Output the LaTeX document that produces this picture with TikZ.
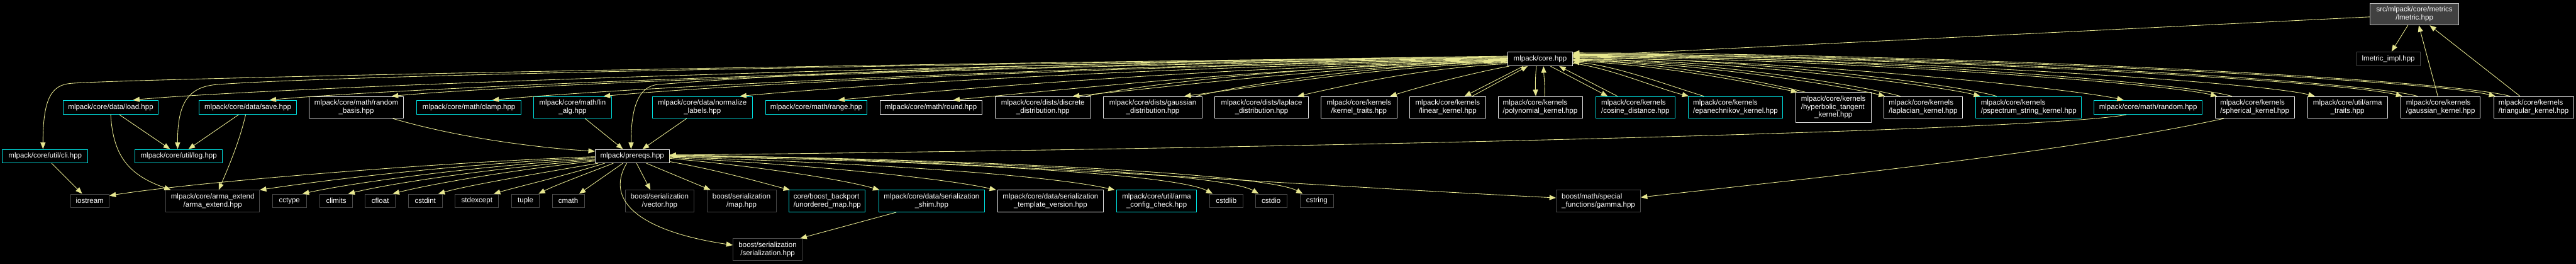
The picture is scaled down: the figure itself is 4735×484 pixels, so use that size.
\documentclass[tikz,border=0pt]{standalone}
\usepackage{fontspec}
\setmainfont{Liberation Sans}
\usetikzlibrary{arrows.meta,calc}
\definecolor{edgec}{RGB}{230,230,143}
\definecolor{cyanb}{RGB}{0,224,224}
\definecolor{docb}{RGB}{230,230,230}
\definecolor{sysb}{RGB}{74,74,74}
\definecolor{rootf}{RGB}{64,64,64}
\definecolor{rootb}{RGB}{191,191,191}
\begin{document}
\begin{tikzpicture}[x=0.75pt,y=-0.75pt,
  base/.style={rectangle, fill=black, text=white, inner sep=0pt, line width=0.75pt,
    font=\fontsize{10pt}{11.25pt}\selectfont, align=center},
  doc/.style={base, draw=docb},
  trunc/.style={base, draw=cyanb},
  sys/.style={base, draw=sysb},
  rootn/.style={base, draw=rootb, fill=rootf},
  sz/.style 2 args={minimum width={#1*0.75pt}, minimum height={#2*0.75pt}},
  e/.style={draw=edgec, line width=0.75pt, -{Triangle[length=9pt,width=7pt]}}]
\useasboundingbox (0,0) rectangle (4735,484);
\fill[black] (0,0) rectangle (4735,484);

% ---- row 1 / top
\node[rootn, sz={163}{40}] (root) at (4438,26) {src/mlpack/core/metrics\\/lmetric.hpp};
\node[doc, sz={119}{26}] (core) at (2831,108) {mlpack/core.hpp};
\node[sys, sz={117}{26}] (impl) at (4390,108) {lmetric\_impl.hpp};

% ---- row 2
\node[trunc, sz={175}{26}] (load) at (203.5,197) {mlpack/core/data/load.hpp};
\node[trunc, sz={179}{26}] (save) at (455.5,197) {mlpack/core/data/save.hpp};
\node[doc, sz={174}{40}] (rbasis) at (655,197) {mlpack/core/math/random\\\_basis.hpp};
\node[trunc, sz={192}{26}] (clamp) at (862,197) {mlpack/core/math/clamp.hpp};
\node[trunc, sz={143}{40}] (linalg) at (1052.5,197) {mlpack/core/math/lin\\\_alg.hpp};
\node[trunc, sz={183}{40}] (norm) at (1291,197) {mlpack/core/data/normalize\\\_labels.hpp};
\node[trunc, sz={187}{26}] (range) at (1500.5,197) {mlpack/core/math/range.hpp};
\node[doc, sz={187}{26}] (round) at (1711,197) {mlpack/core/math/round.hpp};
\node[doc, sz={175}{40}] (discrete) at (1917,197) {mlpack/core/dists/discrete\\\_distribution.hpp};
\node[doc, sz={182}{40}] (gdist) at (2119,197) {mlpack/core/dists/gaussian\\\_distribution.hpp};
\node[doc, sz={172}{40}] (ldist) at (2319,197) {mlpack/core/dists/laplace\\\_distribution.hpp};
\node[doc, sz={139}{40}] (ktraits) at (2498,197) {mlpack/core/kernels\\/kernel\_traits.hpp};
\node[doc, sz={139}{40}] (linear) at (2661,197) {mlpack/core/kernels\\/linear\_kernel.hpp};
\node[doc, sz={155}{40}, align=left] (poly) at (2831,197) {mlpack/core/kernels\\/polynomial\_kernel.hpp};
\node[trunc, sz={146}{40}, align=left] (cosine) at (3006,197) {mlpack/core/kernels\\/cosine\_distance.hpp};
\node[trunc, sz={174}{40}, align=left] (epan) at (3190,197) {mlpack/core/kernels\\/epanechnikov\_kernel.hpp};
\node[doc, sz={139}{55}] (hyper) at (3370,197) {\begin{tabular}{@{}l@{}}mlpack/core/kernels\\/hyperbolic\_tangent\\\multicolumn{1}{@{}c@{}}{\_kernel.hpp}\end{tabular}};
\node[doc, sz={144}{40}, align=left] (laplacian) at (3535,197) {mlpack/core/kernels\\/laplacian\_kernel.hpp};
\node[trunc, sz={194}{40}, align=left] (psk) at (3729,197) {mlpack/core/kernels\\/pspectrum\_string\_kernel.hpp};
\node[trunc, sz={199}{26}] (random) at (3948.5,197) {mlpack/core/math/random.hpp};
\node[doc, sz={146}{40}, align=left] (spherical) at (4144.5,197) {mlpack/core/kernels\\/spherical\_kernel.hpp};
\node[doc, sz={147}{40}] (atraits) at (4315,197) {mlpack/core/util/arma\\\_traits.hpp};
\node[doc, sz={146}{40}, align=left] (gkern) at (4486,197) {mlpack/core/kernels\\/gaussian\_kernel.hpp};
\node[doc, sz={147}{40}, align=left] (tri) at (4657,197) {mlpack/core/kernels\\/triangular\_kernel.hpp};

% ---- row 3
\node[trunc, sz={157}{25}] (cli) at (83,286.5) {mlpack/core/util/cli.hpp};
\node[trunc, sz={161}{25}] (log) at (328.5,286.5) {mlpack/core/util/log.hpp};
\node[doc, sz={136}{25}] (prereqs) at (1162,286.5) {mlpack/prereqs.hpp};

% ---- row 4
\node[sys, sz={71}{25}] (iostream) at (165,368.5) {iostream};
\node[sys, sz={172}{40}] (aext) at (391,369) {mlpack/core/arma\_extend\\/arma\_extend.hpp};
\node[sys, sz={62}{25}] (cctype) at (532,368.5) {cctype};
\node[sys, sz={60}{25}] (climits) at (618,368.5) {climits};
\node[sys, sz={55}{25}] (cfloat) at (699,368.5) {cfloat};
\node[sys, sz={62}{25}] (cstdint) at (781.7,368.5) {cstdint};
\node[sys, sz={80}{25}] (stdexcept) at (876.6,368.5) {stdexcept};
\node[sys, sz={51}{25}] (tuple) at (966,368.5) {tuple};
\node[sys, sz={59}{25}] (cmath) at (1044.5,368.5) {cmath};
\node[sys, sz={127}{40}] (vector) at (1212.5,369) {boost/serialization\\/vector.hpp};
\node[sys, sz={127}{40}] (map) at (1363,369) {boost/serialization\\/map.hpp};
\node[trunc, sz={140}{40}, align=left] (umap) at (1520.5,369) {core/boost\_backport\\/unordered\_map.hpp};
\node[trunc, sz={195}{40}] (shim) at (1712.5,369) {mlpack/core/data/serialization\\\_shim.hpp};
\node[doc, sz={195}{40}] (tver) at (1931,369) {mlpack/core/data/serialization\\\_template\_version.hpp};
\node[trunc, sz={147}{40}] (acfg) at (2126,369) {mlpack/core/util/arma\\\_config\_check.hpp};
\node[sys, sz={61}{25}] (cstdlib) at (2254,368.5) {cstdlib};
\node[sys, sz={58}{25}] (cstdio) at (2336.5,368.5) {cstdio};
\node[sys, sz={61}{25}] (cstring) at (2420.5,368.5) {cstring};
\node[sys, sz={155}{40}, align=left] (gamma) at (2938,369) {boost/math/special\\\_functions/gamma.hpp};

% ---- row 5
\node[sys, sz={127}{40}] (ser) at (1411,457.7) {boost/serialization\\/serialization.hpp};

% ================= edges =================
% root
\draw[e] ($(root.west)+(0,5)$) -- ($(core.east)+(0,-5)$);
\draw[e] ($(root.south)+(-12,0)$) -- ($(impl.north)+(6,0)$);
\draw[e] ($(gkern.north)+(-5,0)$) -- ($(root.south)+(8,0)$);
\draw[e] ($(tri.north)+(-25,0)$) -- ($(root.south)+(28,0)$);

% core -> left fan
\draw[e] ($(core.west)+(0,-4)$) .. controls (1500,118) and (220,145) .. (130,153) .. controls (95,156) and (79,180) .. ($(cli.north)+(-4,0)$);
\draw[e] ($(core.west)+(0,-3)$) .. controls (1500,120) and (600,140) .. (400,155) .. controls (345,159) and (326,190) .. ($(log.north)+(-2,0)$);
\draw[e] ($(core.west)+(0,-5)$) .. controls (1800,115) and (1400,140) .. (1210,155) .. controls (1172,158) and (1160,200) .. ($(prereqs.north)+(-2,0)$);
\draw[e] ($(core.west)+(0,-2)$) .. controls (1760,115) and (495,160) .. ($(load.north)+(41,0)$);
\draw[e] ($(core.west)+(0,-1)$) .. controls (1860,116) and (745,160) .. ($(save.north)+(40,0)$);
\draw[e] ($(core.west)+(0,0)$) .. controls (1950,117) and (970,153) .. ($(rbasis.north)+(65,0)$);
\draw[e] ($(core.west)+(0,1)$) .. controls (2025,118) and (1155,160) .. ($(clamp.north)+(43,0)$);
\draw[e] ($(core.west)+(0,2)$) .. controls (2105,119) and (1360,153) .. ($(linalg.north)+(57,0)$);
\draw[e] ($(core.west)+(0,3)$) .. controls (2205,120) and (1610,153) .. ($(norm.north)+(69,0)$);
\draw[e] ($(core.west)+(0,4)$) .. controls (2280,121) and (1790,160) .. ($(range.north)+(40,0)$);
\draw[e] ($(core.west)+(0,5)$) .. controls (2360,122) and (2000,160) .. ($(round.north)+(41,0)$);
\draw[e] ($(core.west)+(0,6)$) .. controls (2450,122) and (2210,153) .. ($(discrete.north)+(55,0)$);
\draw[e] ($(core.west)+(0,7)$) .. controls (2530,123) and (2355,153) .. ($(gdist.north)+(58,0)$);
\draw[e] ($(core.west)+(0,9)$) .. controls (2615,125) and (2490,153) .. ($(ldist.north)+(66,0)$);
\draw[e] ($(core.south west)+(3,0)$) .. controls (2700,135) and (2615,158) .. ($(ktraits.north)+(57,0)$);
\draw[e] ($(discrete.north)+(79,0)$) .. controls (2150,145) and (2500,117) .. ($(core.west)+(0,2)$);
\draw[e] ($(gdist.north)+(80,0)$) .. controls (2330,145) and (2580,118) .. ($(core.west)+(0,3)$);

% core <-> nearby kernels
\draw[e] ($(core.south)+(-31,0)$) -- ($(linear.north)+(31,0)$);
\draw[e] ($(linear.north)+(45,0)$) -- ($(core.south)+(-23,0)$);
\draw[e] ($(core.south)+(-7,0)$) .. controls (2822,140) and (2822,160) .. ($(poly.north)+(-8,0)$);
\draw[e] ($(poly.north)+(8,0)$) .. controls (2840,160) and (2838,140) .. ($(core.south)+(6,0)$);
\draw[e] ($(core.south)+(19,0)$) -- ($(cosine.north)+(-51,0)$);
\draw[e] ($(cosine.north)+(-33,0)$) -- ($(core.south)+(35,0)$);

% core -> right fan and back edges
\draw[e] ($(core.east)+(0,8)$) .. controls (2960,125) and (3040,160) .. ($(epan.north)+(-86,0)$);
\draw[e] ($(epan.north)+(-58,0)$) .. controls (3070,158) and (2970,120) .. ($(core.east)+(0,6)$);
\draw[e] ($(core.east)+(0,4)$) .. controls (3050,118) and (3220,152) .. ($(hyper.north)+(-66,0)$);
\draw[e] ($(hyper.north)+(-52,0)$) .. controls (3240,150) and (3060,114) .. ($(core.east)+(0,3)$);
\draw[e] ($(core.east)+(0,2)$) .. controls (3120,114) and (3390,158) .. ($(laplacian.north)+(-70,0)$);
\draw[e] ($(laplacian.north)+(-42,0)$) .. controls (3410,154) and (3130,111) .. ($(core.east)+(0,1)$);
\draw[e] ($(core.east)+(0,0)$) .. controls (3190,111) and (3560,156) .. ($(psk.north)+(-89,0)$);
\draw[e] ($(psk.north)+(-59,0)$) .. controls (3590,153) and (3200,107) .. ($(core.east)+(0,-3)$);
\draw[e] ($(core.east)+(0,-2)$) .. controls (3300,109) and (3810,163) .. ($(random.north)+(-45,0)$);
\draw[e] ($(core.east)+(0,-4)$) .. controls (3370,107) and (3980,153) .. ($(spherical.north)+(-69,0)$);
\draw[e] ($(spherical.north)+(-42,0)$) .. controls (4010,150) and (3380,104) .. ($(core.east)+(0,-6)$);
\draw[e] ($(core.east)+(0,-5)$) .. controls (3440,105) and (4150,150) .. ($(atraits.north)+(-60,0)$);
\draw[e] ($(core.east)+(0,-7)$) .. controls (3500,103) and (4300,148) .. ($(gkern.north)+(-70,0)$);
\draw[e] ($(gkern.north)+(-42,0)$) .. controls (4330,146) and (3510,101) .. ($(core.east)+(0,-8)$);
\draw[e] ($(core.east)+(0,-9)$) .. controls (3560,100) and (4460,146) .. ($(tri.north)+(-70,0)$);
\draw[e] ($(tri.north)+(-43,0)$) .. controls (4490,144) and (3570,98) .. ($(core.east)+(0,-11)$);

% row 2 -> lower rows
\draw[e] ($(load.south)+(16,0)$) -- ($(log.north)+(-16,0)$);
\draw[e] ($(save.south)+(-17,0)$) -- ($(log.north)+(18,0)$);
\draw[e] (load.south) .. controls (208,290) and (240,322) .. ($(aext.north)+(-77,0)$);
\draw[e] ($(save.south)+(-4,0)$) .. controls (440,262) and (415,318) .. ($(aext.north)+(11,0)$);
\draw[e] ($(rbasis.south)+(67,0)$) .. controls (850,255) and (1000,272) .. ($(prereqs.west)+(0,-9)$);
\draw[e] ($(linalg.south)+(23,0)$) -- ($(prereqs.north)+(-17,0)$);
\draw[e] ($(norm.south)+(-29,0)$) -- ($(prereqs.north)+(19,0)$);
\draw[e] ($(random.south)+(-40,0)$) .. controls (3750,240) and (2400,272) .. ($(prereqs.east)+(0,-2)$);
\draw[e] ($(spherical.south)+(-57,0)$) .. controls (3800,280) and (3300,330) .. ($(gamma.east)+(0,-7)$);
\draw[e] ($(cli.south)+(12,0)$) -- ($(iostream.north)+(-14,0)$);

% prereqs fan
\draw[e] ($(prereqs.west)+(0,1)$) .. controls (800,298) and (350,335) .. ($(iostream.east)+(0,-9.5)$);
\draw[e] ($(prereqs.west)+(0,3)$) .. controls (850,300) and (600,330) .. (aext.north east);
\draw[e] ($(prereqs.west)+(0,5)$) .. controls (870,305) and (650,335) .. ($(cctype.north)+(24,0)$);
\draw[e] ($(prereqs.west)+(0,7)$) .. controls (910,308) and (720,336) .. ($(climits.north)+(22,0)$);
\draw[e] ($(prereqs.west)+(0,9)$) .. controls (940,312) and (790,338) .. ($(cfloat.north)+(23,0)$);
\draw[e] ($(prereqs.south west)+(6,0)$) .. controls (990,318) and (860,340) .. ($(cstdint.north)+(24,0)$);
\draw[e] ($(prereqs.south west)+(18,0)$) .. controls (1040,322) and (950,343) .. ($(stdexcept.north)+(31,0)$);
\draw[e] ($(prereqs.south west)+(34,0)$) .. controls (1080,318) and (1020,340) .. ($(tuple.north)+(24,0)$);
\draw[e] ($(prereqs.south)+(-17,0)$) -- ($(cmath.north)+(20,0)$);
\draw[e] ($(prereqs.south)+(-10,0)$) .. controls (1110,370) and (1180,425) .. ($(ser.west)+(0,-8)$);
\draw[e] ($(prereqs.south)+(8,0)$) -- ($(vector.north)+(-17,0)$);
\draw[e] ($(prereqs.south)+(26,0)$) -- ($(map.north)+(-57,0)$);
\draw[e] ($(prereqs.south east)+(0,-3)$) .. controls (1320,312) and (1400,335) .. ($(umap.north west)+(2,0)$);
\draw[e] ($(prereqs.east)+(0,4)$) .. controls (1420,308) and (1560,332) .. ($(shim.north west)+(2,0)$);
\draw[e] ($(prereqs.east)+(0,2.5)$) .. controls (1500,303) and (1740,328) .. ($(tver.north west)+(-2,0)$);
\draw[e] ($(prereqs.east)+(0,1.5)$) .. controls (1620,300) and (1930,322) .. ($(acfg.north west)+(-3,0)$);
\draw[e] ($(prereqs.east)+(0,0.5)$) .. controls (1700,294) and (2160,318) .. ($(cstdlib.north)+(-25,0)$);
\draw[e] ($(prereqs.east)+(0,-0.5)$) .. controls (1760,292) and (2250,318) .. ($(cstdio.north)+(-23,0)$);
\draw[e] ($(prereqs.east)+(0,-1.5)$) .. controls (1820,292) and (2330,320) .. ($(cstring.north)+(-26,0)$);
\draw[e] ($(prereqs.east)+(0,-2.5)$) .. controls (1750,292) and (2300,335) .. ($(gamma.west)+(0,-6)$);
\draw[e] ($(shim.south)+(-65,0)$) -- ($(ser.north east)+(-4,0)$);
\end{tikzpicture}
\end{document}
